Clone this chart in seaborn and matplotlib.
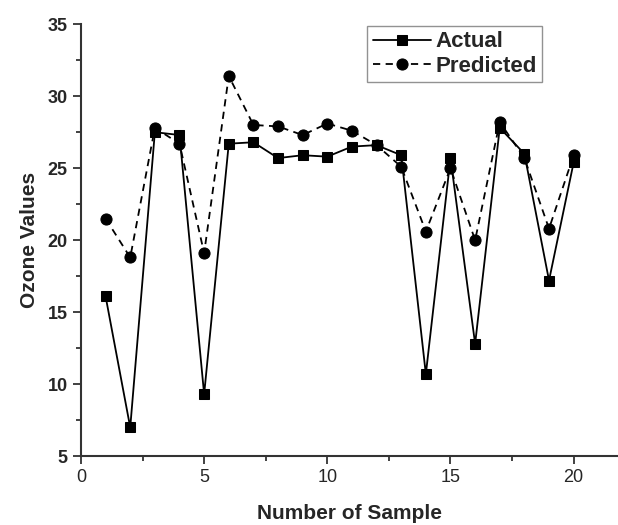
import numpy as np
import pandas as pd
import matplotlib
matplotlib.use("Agg")
import matplotlib.pyplot as plt
import seaborn as sns
from matplotlib.ticker import MultipleLocator

samples = list(range(1, 21))
actual = [16.1, 7.0, 27.5, 27.3, 9.3, 26.7, 26.8, 25.7, 25.9, 25.8,
          26.5, 26.6, 25.9, 10.7, 25.7, 12.8, 27.8, 26.0, 17.2, 25.4]
predicted = [21.5, 18.8, 27.8, 26.7, 19.1, 31.4, 28.0, 27.9, 27.3, 28.1,
             27.6, 26.6, 25.1, 20.6, 25.0, 20.0, 28.2, 25.7, 20.8, 25.9]

sns.set_style("ticks")
plt.rcParams["font.family"] = ["Liberation Sans", "DejaVu Sans"]

fig = plt.figure(figsize=(6.18, 5.25), dpi=100)
ax = fig.add_axes([0.131, 0.131, 0.869, 0.823])

sns.lineplot(x=samples, y=actual, ax=ax, color="black", linewidth=1.3,
             marker="s", markersize=7, markeredgecolor="black", label="Actual")
sns.lineplot(x=samples, y=predicted, ax=ax, color="black", linewidth=1.3,
             linestyle=(0, (4, 3)), marker="o", markersize=8,
             markeredgecolor="black", label="Predicted")

ax.set_xlim(0, 21.8)
ax.set_ylim(5, 35)
ax.xaxis.set_major_locator(MultipleLocator(5))
ax.xaxis.set_minor_locator(MultipleLocator(2.5))
ax.yaxis.set_major_locator(MultipleLocator(5))
ax.yaxis.set_minor_locator(MultipleLocator(2.5))
ax.tick_params(which="major", direction="out", length=6, width=1.3,
               labelsize=13, color="#333333")
ax.tick_params(which="minor", direction="out", length=3.5, width=1.3,
               color="#333333")
for lbl in ax.get_yticklabels():
    lbl.set_fontweight("bold")

for side in ["top", "right"]:
    ax.spines[side].set_visible(False)
for side in ["left", "bottom"]:
    ax.spines[side].set_linewidth(1.5)
    ax.spines[side].set_color("#333333")

ax.set_xlabel("Number of Sample", fontsize=15, fontweight="bold", labelpad=13)
ax.set_ylabel("Ozone Values", fontsize=15, fontweight="bold", labelpad=6)

leg = ax.legend(loc="upper right", bbox_to_anchor=(0.895, 0.972),
                bbox_transform=fig.transFigure, fontsize=16,
                frameon=True, fancybox=False, edgecolor="#777777",
                handlelength=2.6, borderpad=0.25, labelspacing=0.15,
                handletextpad=0.2)
leg.get_frame().set_linewidth(1.0)
for t in leg.get_texts():
    t.set_fontweight("bold")

fig.savefig("out.png", dpi=100)
